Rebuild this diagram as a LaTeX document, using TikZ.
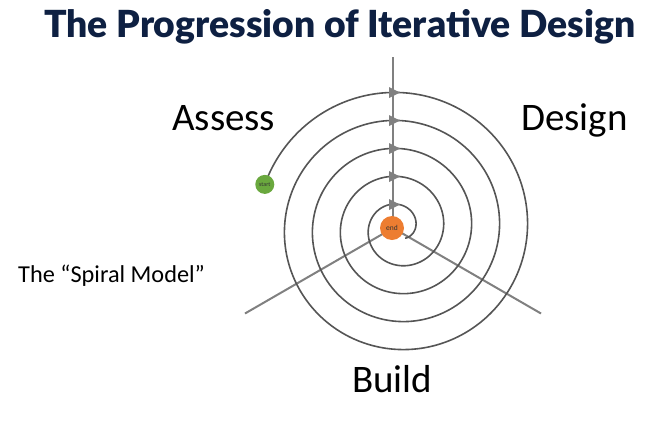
\documentclass[tikz,border=0pt]{standalone}
\usepackage{fontspec}
\setmainfont{Carlito}
\newfontfamily\titlefont{Lato Black}
\definecolor{navy}{RGB}{14,32,66}
\definecolor{spiralgray}{RGB}{85,85,85}
\definecolor{linegray}{RGB}{128,128,128}
\definecolor{startgreen}{RGB}{106,168,62}
\definecolor{endorange}{RGB}{237,125,49}
\tikzset{
  divider/.style={draw=linegray, line width=2pt},
  spiralline/.style={draw=spiralgray, line width=1.6pt},
  headtri/.style={fill=linegray},
  label/.style={anchor=base west, inner sep=0pt, font=\fontsize{39}{46}\selectfont, text=black},
  dot/.style={circle, inner sep=0pt, text=black!80}
}
\begin{document}
\begin{tikzpicture}[x=1pt,y=-1pt]
\useasboundingbox (0,0) rectangle (646,421);
% title
\node[anchor=base west, inner sep=0pt, text=navy, font=\titlefont\fontsize{37.3}{42}\selectfont] (title) at (44,37) {The Progression of Iterative Design};
% labels
\node[label] (assess) at (172,130) {Assess};
\node[label] (design) at (521,130) {Design};
\node[label] (build) at (352,392) {Build};
\node[anchor=base west, inner sep=0pt, font=\fontsize{24.3}{29}\selectfont] (spiral) at (18,282) {The “Spiral Model”};
% dividers
\coordinate (c) at (393,228);
\coordinate (up) at (393,57);
\coordinate (dl) at (245,313.5);
\coordinate (dr) at (541,313.5);
\draw[divider] (c) -- (up);
\draw[divider] (c) -- (dl);
\draw[divider] (c) -- (dr);
% spiral
\draw[spiralline] plot[domain=162:-1499, samples=700, smooth, variable=\t]
  ({399+(135.5+(\t-90)/360*28)*cos(\t)}, {228-(135.5+(\t-90)/360*28)*sin(\t)});
% arrowheads
\foreach \yy [count=\i] in {92.5,120.5,148.5,176.5,204.5}{
  \coordinate (a\i) at (389,\yy);
  \fill[headtri] (a\i) ++(0,-5.5) -- ++(11,5.5) -- ++(-11,5.5) -- cycle;
}
% start and end
\node[dot, fill=startgreen, minimum size=19pt, font=\fontsize{6}{7}\selectfont] (start) at (264.8,184.4) {start};
\node[dot, fill=endorange, minimum size=24pt, font=\fontsize{7.5}{9}\selectfont] (end) at (392,228) {end};
\end{tikzpicture}
\end{document}
